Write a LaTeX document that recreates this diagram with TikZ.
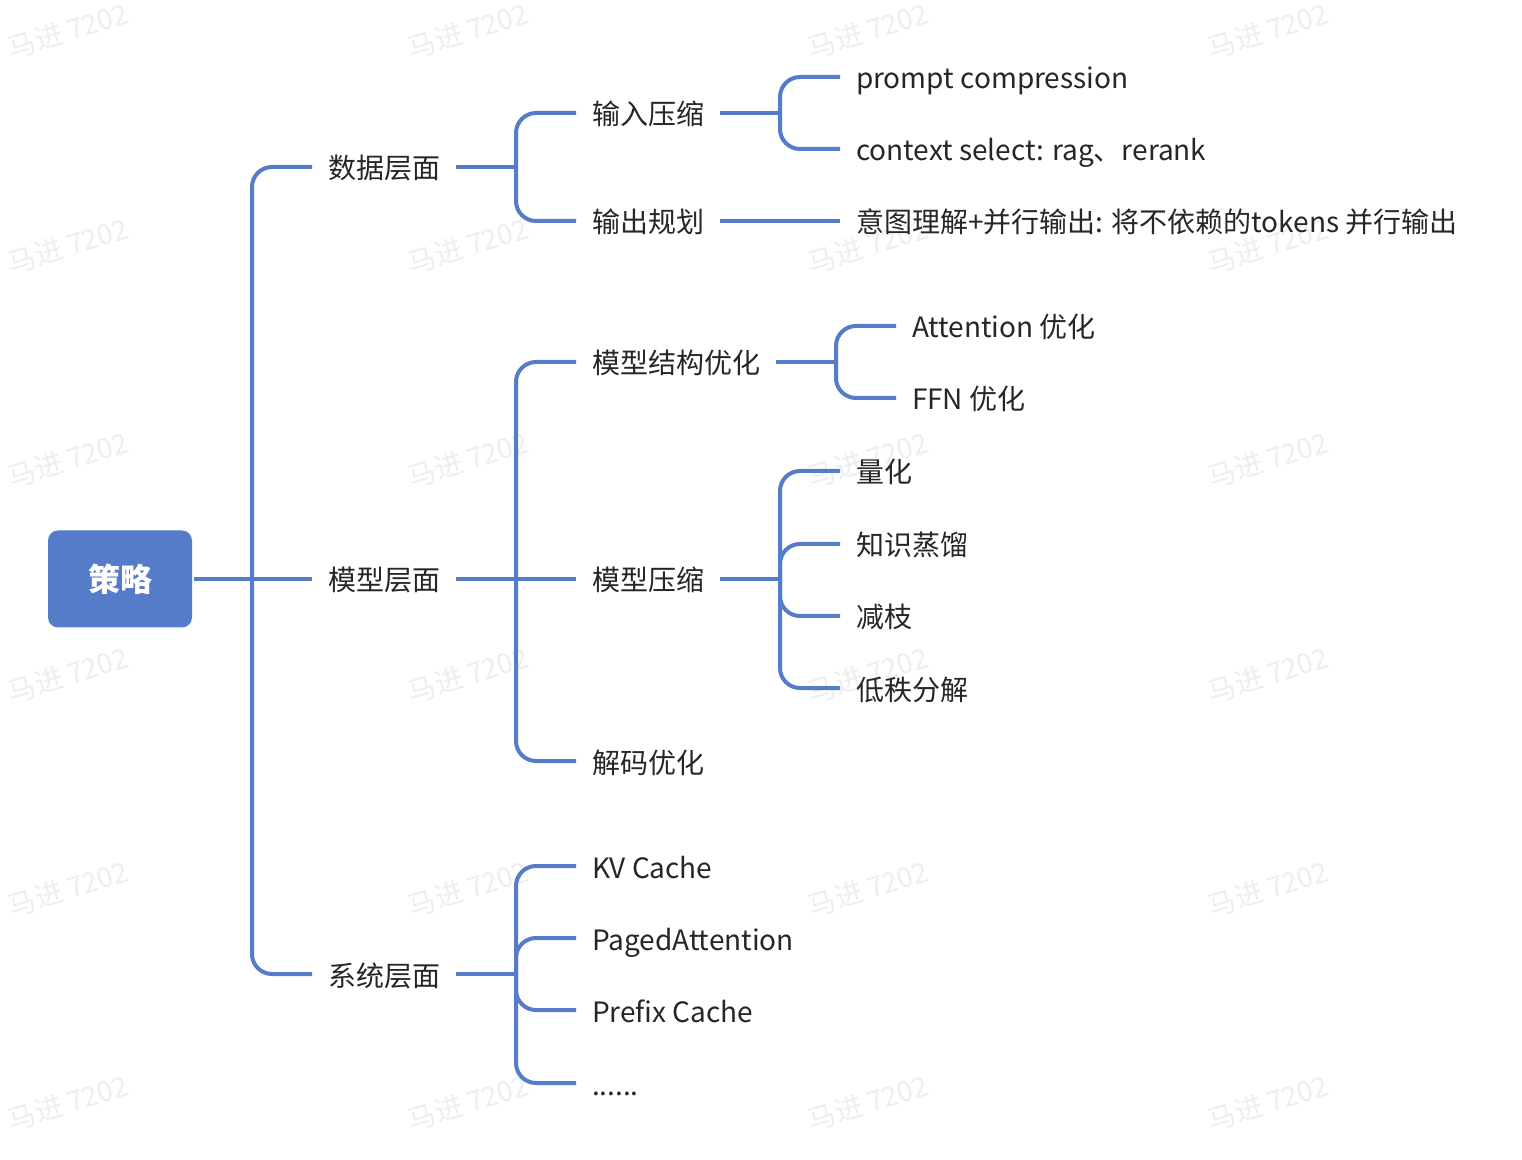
\documentclass[tikz,border=0pt]{standalone}
\usepackage{fontspec}
\setmainfont{Noto Sans CJK SC}
\definecolor{branch}{RGB}{84,124,200}
\definecolor{wmgray}{RGB}{236,238,241}
\definecolor{ink}{RGB}{38,38,38}

\begin{document}
\begin{tikzpicture}[x=0.5pt,y=-0.5pt, line width=2pt]

        \useasboundingbox[fill=white] (0,0) rectangle (1522,1160);

        \begin{scope}[every node/.style={text=wmgray, font=\fontsize{14}{16}\selectfont, rotate=17}]
          \foreach \wx in {68,468,868,1268}
            \foreach \wy in {31,246,460,675,889,1103}
              \node at (\wx,\wy) {马进 7202};
        \end{scope}

        \node (root) [fill=branch, rounded corners=5pt, minimum width=72pt, minimum height=48.5pt,
          text=white, font=\fontsize{16}{18}\selectfont\bfseries] at (120,579) {策略};

        \begin{scope}[every node/.style={anchor=west, inner xsep=7pt, inner ysep=2pt, text=ink,
            text height=14pt, text depth=2pt, font=\fontsize{14}{16}\selectfont}]
          \node (d)   at (312,167)  {数据层面};
          \node (m)   at (312,579)  {模型层面};
          \node (s)   at (312,974)  {系统层面};

          \node (d1)  at (576,113)  {输入压缩};
          \node (d2)  at (576,221)  {输出规划};
          \node (m1)  at (576,362)  {模型结构优化};
          \node (m2)  at (576,579)  {模型压缩};
          \node (m3)  at (576,761)  {解码优化};
          \node (s1)  at (576,866)  {KV Cache};
          \node (s2)  at (576,938)  {PagedAttention};
          \node (s3)  at (576,1010) {Prefix Cache};
          \node (s4)  at (576,1083) {......};

          \node (d11) at (840,77)   {prompt compression};
          \node (d12) at (840,149)  {context select: rag、rerank};
          \node (d21) at (840,221)  {意图理解+并行输出: 将不依赖的tokens 并行输出};
          \node (m11) at (896,326)  {Attention 优化};
          \node (m12) at (896,398)  {FFN 优化};
          \node (m21) at (840,471)  {量化};
          \node (m22) at (840,544)  {知识蒸馏};
          \node (m23) at (840,616)  {减枝};
          \node (m24) at (840,688)  {低秩分解};
        \end{scope}

        \coordinate (j0) at (252,579);
        \coordinate (j1) at (516,167);
        \coordinate (j2) at (516,579);
        \coordinate (j3) at (516,974);
        \coordinate (j4) at (780,113);
        \coordinate (j5) at (836,362);
        \coordinate (j6) at (780,579);

        \begin{scope}[draw=branch, rounded corners=10pt]
          \draw (root.east) -- (m.west);
          \draw (j0) |- (d.west);
          \draw (j0) |- (s.west);

          \draw (d.east) -- (j1);
          \draw (j1) |- (d1.west);
          \draw (j1) |- (d2.west);
          \draw (m.east) -- (m2.west);
          \draw (j2) |- (m1.west);
          \draw (j2) |- (m3.west);
          \draw (s.east) -- (j3);
          \foreach \c in {s1,s2,s3,s4}
            \draw (j3) |- (\c.west);

          \draw (d1.east) -- (j4);
          \draw (j4) |- (d11.west);
          \draw (j4) |- (d12.west);
          \draw (d2.east) -- (d21.west);
          \draw (m1.east) -- (j5);
          \draw (j5) |- (m11.west);
          \draw (j5) |- (m12.west);
          \draw (m2.east) -- (j6);
          \foreach \c in {m21,m22,m23,m24}
            \draw (j6) |- (\c.west);
        \end{scope}

      \end{tikzpicture}
\end{document}
